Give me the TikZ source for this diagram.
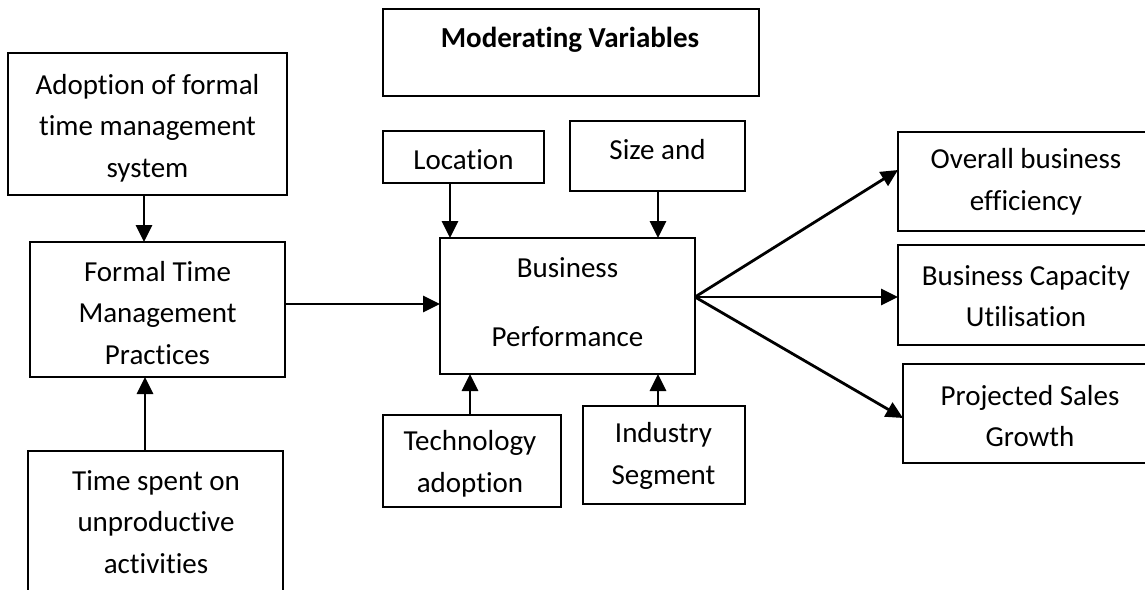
\documentclass[tikz,border=0pt]{standalone}
\usepackage{fontspec}
\setmainfont{Carlito}[Ligatures=NoCommon]
\usetikzlibrary{arrows.meta}
\begin{document}
\begin{tikzpicture}[x=1pt,y=-1pt,
  box/.style={draw, line width=1.8pt, inner sep=0pt, outer sep=0pt},
  txt/.style={align=center, font=\fontsize{29}{41.5}\selectfont, inner sep=0pt},
  arr/.style={line width=2.8pt, -{Triangle[length=17pt,width=16pt]}}]
\useasboundingbox (0,0) rectangle (1145,589);
\fill[white] (0,0) rectangle (1145,589);
% boxes
\node[box, minimum width=279pt, minimum height=142pt] (adopt) at (147.5,124) {};
\node[box, minimum width=255pt, minimum height=135pt] (formal) at (157.5,309.5) {};
\node[box, minimum width=255pt, minimum height=149pt] (timesp) at (155.5,525.5) {};
\node[box, minimum width=255pt, minimum height=136pt] (bp) at (567.5,306) {};
\node[box, minimum width=376pt, minimum height=87pt] (mod) at (571,52.5) {};
\node[box, minimum width=161pt, minimum height=52pt] (loc) at (463.5,157) {};
\node[box, minimum width=175pt, minimum height=70pt] (size) at (657.5,156) {};
\node[box, minimum width=178pt, minimum height=92pt] (tech) at (472,461) {};
\node[box, minimum width=162pt, minimum height=98pt] (ind) at (664,455) {};
\node[box, minimum width=257pt, minimum height=99pt] (over) at (1026.5,181.5) {};
\node[box, minimum width=257pt, minimum height=100pt] (cap) at (1026.5,295) {};
\node[box, minimum width=254pt, minimum height=99pt] (proj) at (1030,413.5) {};
% texts
\node[txt] (tadopt) at (147.5,128) {Adoption of formal\\time management\\system};
\node[txt] (tformal) at (157.5,313) {Formal Time\\Management\\Practices};
\node[txt] (ttimesp) at (156,522) {Time spent on\\unproductive\\activities};
\node[txt, font=\fontsize{29}{69}\selectfont] (tbp) at (567.5,302) {Business\\Performance};
\node[txt, font=\fontsize{29}{41.5}\selectfont\bfseries] (tmod) at (570,40) {Moderating Variables};
\node[txt] (tloc) at (463.5,160) {Location};
\node[txt] (tsize) at (657.5,150) {Size and};
\node[txt] (ttech) at (470,464) {Technology\\adoption};
\node[txt] (tind) at (663.5,456) {Industry\\Segment};
\node[txt] (tover) at (1026,182) {Overall business\\efficiency};
\node[txt] (tcap) at (1026,296) {Business Capacity\\Utilisation};
\node[txt] (tproj) at (1030,416) {Projected Sales\\Growth};
% connectors
\draw[arr] (adopt.south -| 144,0) -- (formal.north -| 144,0);
\draw[arr] (timesp.north -| 145,0) -- (formal.south -| 145,0);
\draw[arr] (formal.east |- 0,304) -- (bp.west |- 0,304);
\draw[arr] (loc.south -| 450,0) -- (bp.north -| 450,0);
\draw[arr] (size.south -| 658,0) -- (bp.north -| 658,0);
\draw[arr] (tech.north -| 470,0) -- (bp.south -| 470,0);
\draw[arr] (ind.north -| 658,0) -- (bp.south -| 658,0);
\draw[arr] (bp.east |- 0,297) -- (over.west |- 0,170);
\draw[arr] (bp.east |- 0,297) -- (cap.west |- 0,297);
\draw[arr] (bp.east |- 0,297) -- (proj.west |- 0,418);
\end{tikzpicture}
\end{document}
